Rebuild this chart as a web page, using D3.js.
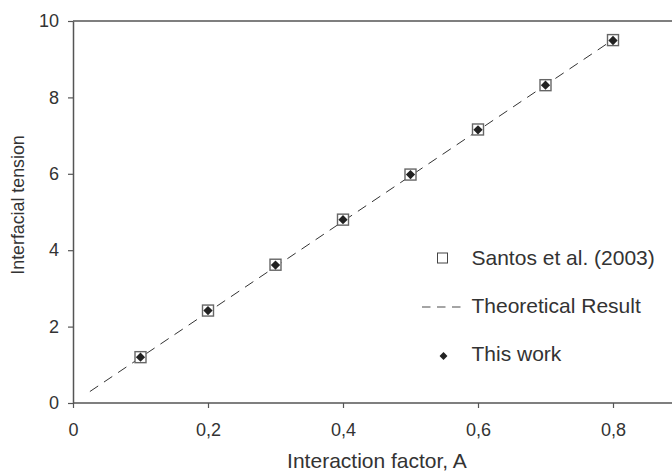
<!DOCTYPE html>
<html><head><meta charset="utf-8">
<script src="https://cdn.jsdelivr.net/npm/d3@7"></script>
<style>body{margin:0;background:#fff}svg{display:block}text{font-family:"Liberation Sans",Arial,sans-serif;fill:#333}</style>
</head><body>
<script>
const interactionFactor = [0.1,0.2,0.3,0.4,0.5,0.6,0.7,0.8];
const santos2003 = [1.2,2.42,3.62,4.8,5.98,7.16,8.32,9.5];
const thisWork = [1.2,2.42,3.61,4.8,5.98,7.15,8.32,9.49];
const theoryX = [0.025,0.8];
const theoryY = [0.3,9.51];
const xTicks = [0,0.2,0.4,0.6,0.8];
const yTicks = [0,2,4,6,8,10];
const legendLabels = ["Santos et al. (2003)","Theoretical Result","This work"];

const W=672,H=471;
const svg=d3.select("body").append("svg").attr("width",W).attr("height",H);
const x=d3.scaleLinear().domain([0,0.9]).range([73,680.5]);
const y=d3.scaleLinear().domain([0,10]).range([403,21]);
const axisCol="#555";

// top border
svg.append("line").attr("x1",x(0)).attr("x2",W).attr("y1",y(10)).attr("y2",y(10)).attr("stroke",axisCol).attr("stroke-width",1.5);

const fmt=d=>String(d).replace(".",",");
const gx=svg.append("g").attr("transform",`translate(0,${y(0)})`).call(d3.axisBottom(x).tickValues(xTicks).tickSize(5).tickSizeOuter(0).tickFormat(fmt).tickPadding(15));
const gy=svg.append("g").attr("transform",`translate(${x(0)},0)`).call(d3.axisLeft(y).tickValues(yTicks).tickSize(5).tickSizeOuter(0).tickPadding(9));
[gx,gy].forEach(g=>{g.select(".domain").attr("stroke",axisCol).attr("stroke-width",1.5);g.selectAll(".tick line").attr("stroke",axisCol).attr("stroke-width",1.2);g.selectAll("text").attr("font-size",18).attr("fill","#333").style("font-family","Liberation Sans, Arial, sans-serif");});
gx.select(".domain").attr("d",`M${x(0)},0H${W}`);

// theoretical line
svg.append("path").datum(theoryX.map((d,i)=>[d,theoryY[i]]))
 .attr("d",d3.line().x(d=>x(d[0])).y(d=>y(d[1])))
 .attr("fill","none").attr("stroke","#333").attr("stroke-width",1).attr("stroke-dasharray","10,7");

// squares
svg.selectAll("rect.s").data(interactionFactor).join("rect").attr("class","s")
 .attr("x",(d,i)=>x(d)-5.5).attr("y",(d,i)=>y(santos2003[i])-5.5).attr("width",11).attr("height",11)
 .attr("fill","#fff").attr("stroke","#666").attr("stroke-width",1.4);
// diamonds
const dia=d3.symbol().type(d3.symbolDiamond2).size(55);
svg.selectAll("path.d").data(interactionFactor).join("path").attr("class","d")
 .attr("transform",(d,i)=>`translate(${x(d)},${y(thisWork[i])})`).attr("d",dia).attr("fill","#222");

// legend
const lg=svg.append("g");
lg.append("rect").attr("x",437.5).attr("y",253).attr("width",10).attr("height",10).attr("fill","#fff").attr("stroke","#444").attr("stroke-width",1);
lg.append("line").attr("x1",422).attr("x2",462).attr("y1",307).attr("y2",307).attr("stroke","#888").attr("stroke-width",1.3).attr("stroke-dasharray","8.5,6.5");
lg.append("path").attr("transform","translate(443.5,356)").attr("d",d3.symbol().type(d3.symbolDiamond2).size(40)).attr("fill","#222");
[265,313,361].forEach((yy,i)=>lg.append("text").attr("x",471.5).attr("y",yy).attr("font-size",21).text(legendLabels[i]));

// axis titles
svg.append("text").attr("x",377).attr("y",468).attr("text-anchor","middle").attr("font-size",21).text("Interaction factor, A");
svg.append("text").attr("transform","translate(24,205) rotate(-90)").attr("text-anchor","middle").attr("font-size",17.8).text("Interfacial tension");
</script>
</body></html>
